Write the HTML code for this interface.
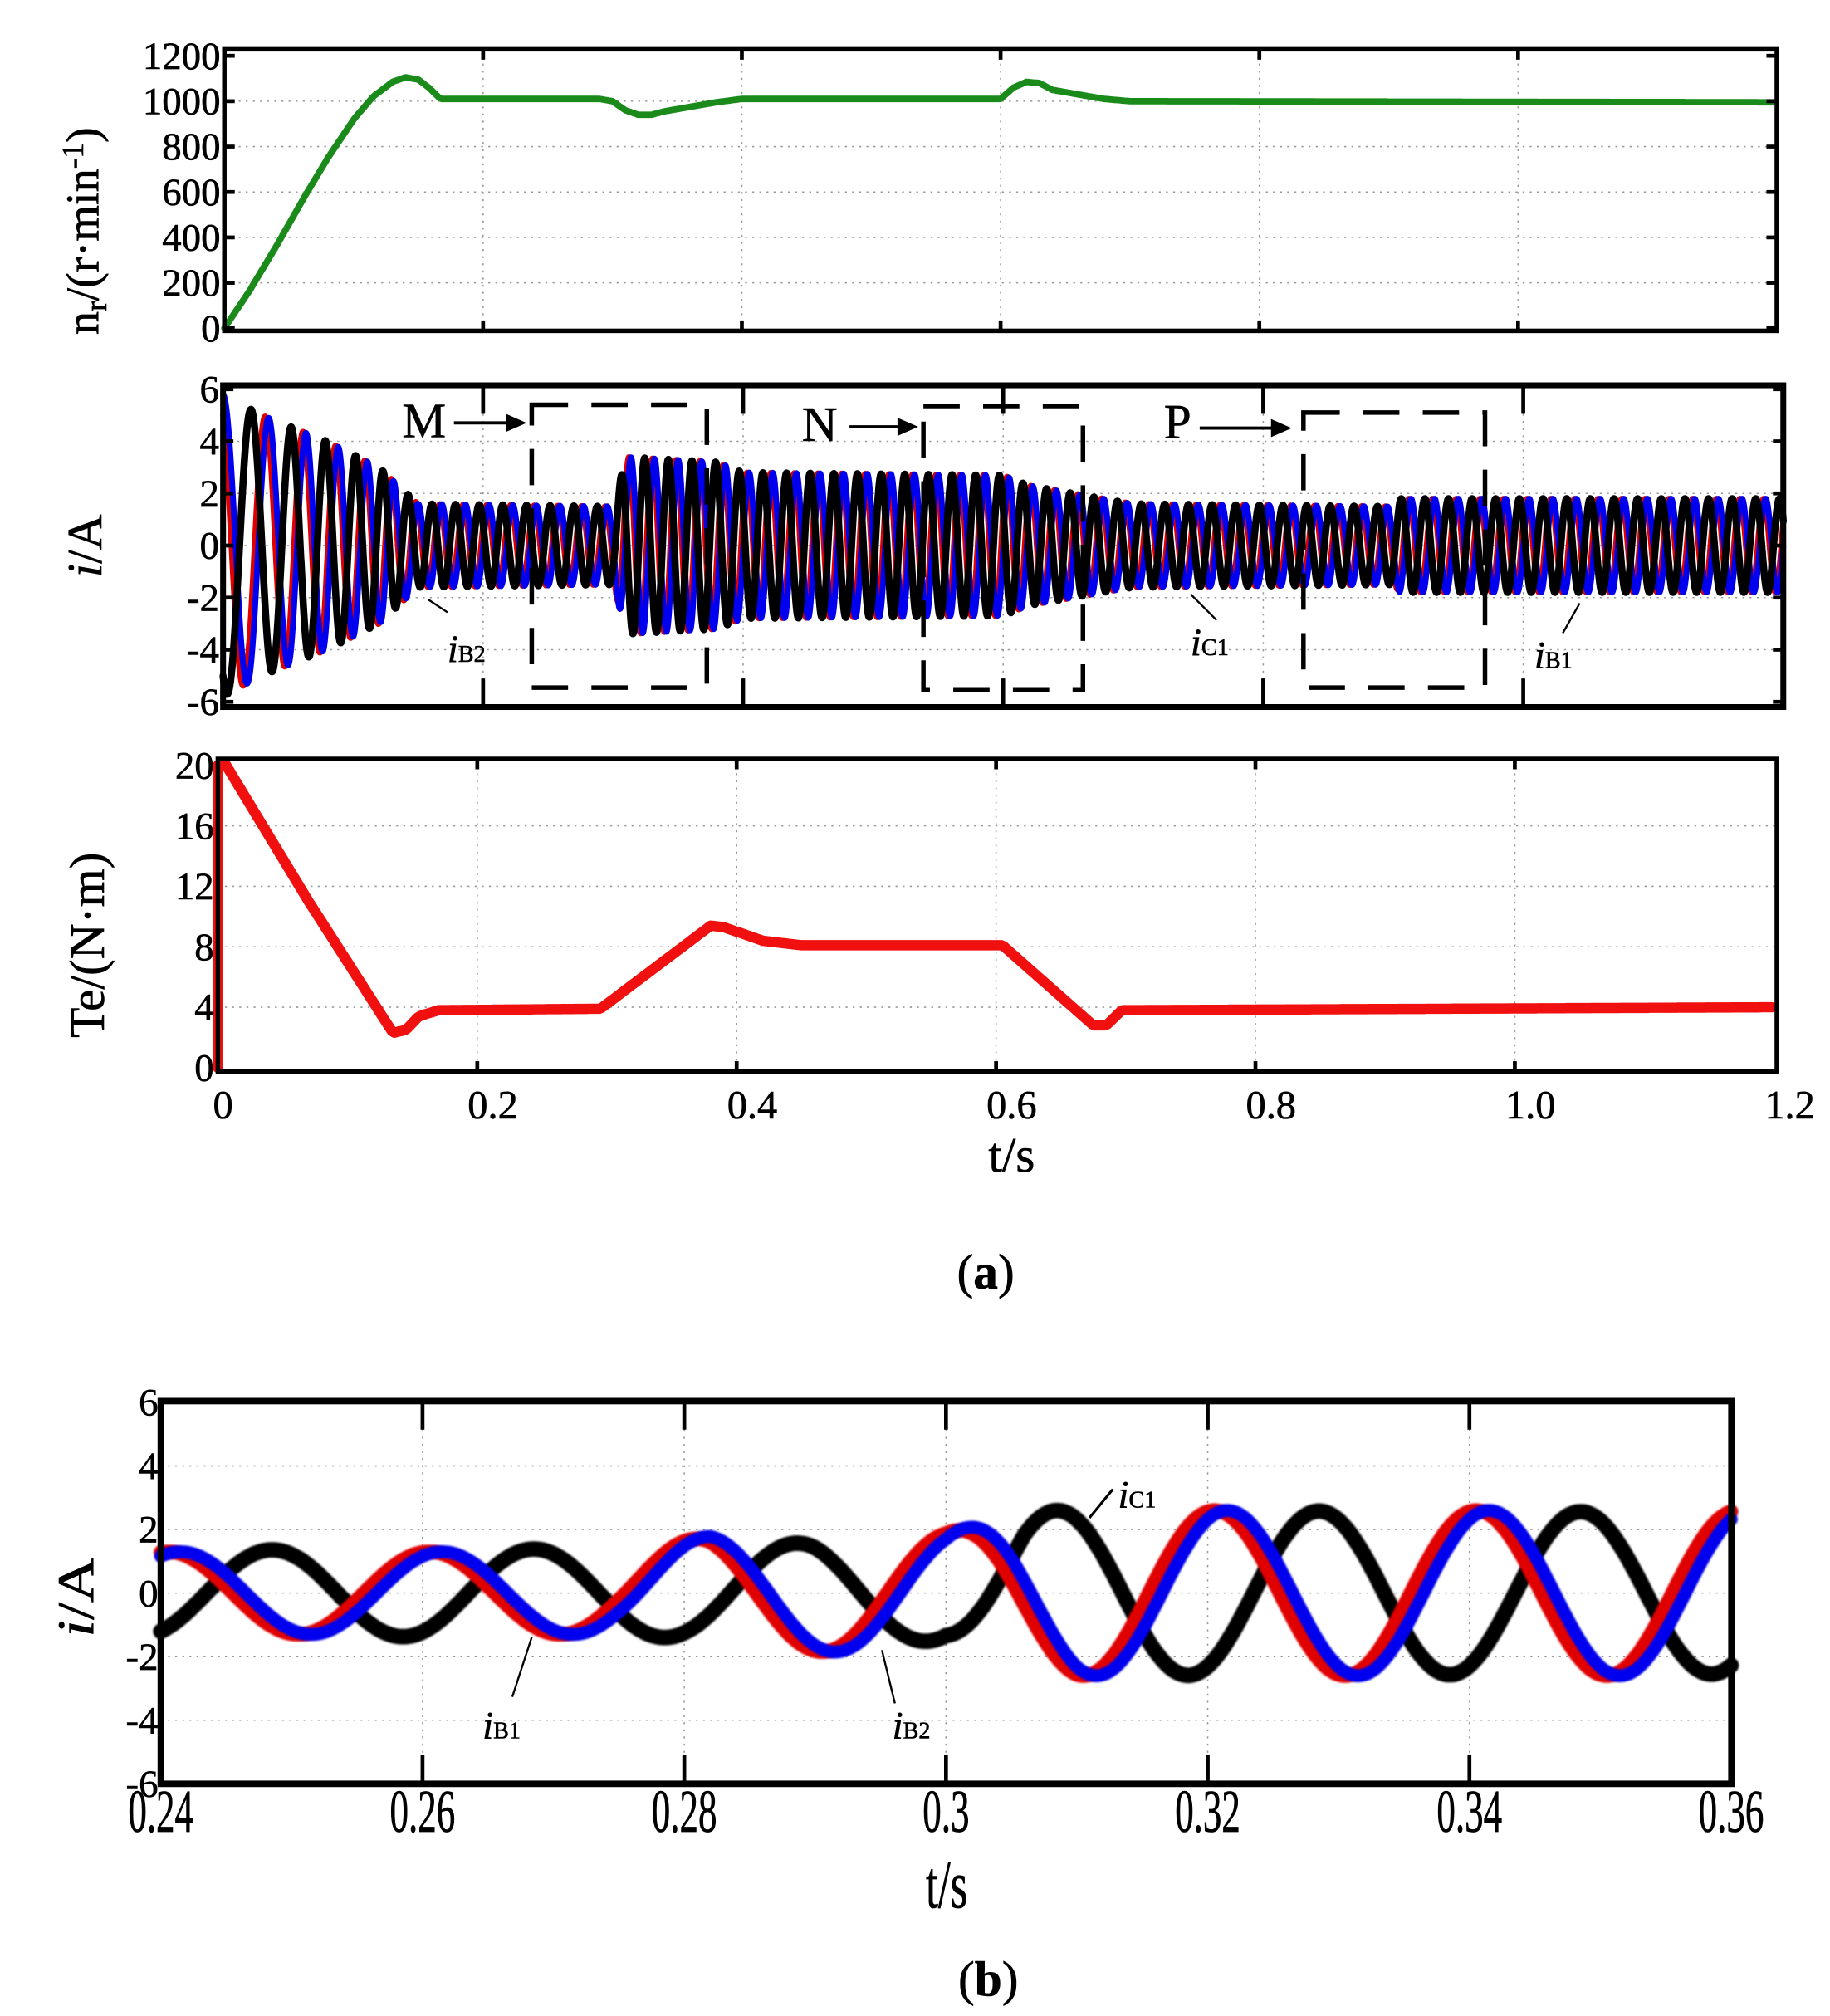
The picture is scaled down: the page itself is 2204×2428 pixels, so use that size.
<!DOCTYPE html>
<html><head><meta charset="utf-8"><style>
html,body{margin:0;padding:0;background:#fff}
svg{display:block}
text{font-family:"Liberation Serif",serif;fill:#000;stroke:#000;stroke-width:0.4}
</style></head><body>
<svg id="s" width="2204" height="2428" viewBox="0 0 1411 1554" preserveAspectRatio="none" xmlns="http://www.w3.org/2000/svg">
<defs><filter id="fz"><feGaussianBlur stdDeviation="0.6"/></filter></defs>
<g id="grid" stroke="#999" stroke-width="1" stroke-dasharray="1.5,4" fill="none"></g>
<g id="data" fill="none" stroke-linejoin="round" stroke-linecap="round"></g>
<g id="axes" fill="none" stroke="#000"></g>
<g id="txt"></g>
</svg>
<script>
const NS="http://www.w3.org/2000/svg";
function el(g,tag,attrs,text){const e=document.createElementNS(NS,tag);for(const k in attrs)e.setAttribute(k,attrs[k]);if(text!==undefined)e.textContent=text;document.getElementById(g).appendChild(e);return e;}
function line(g,x1,y1,x2,y2,a){return el(g,'line',Object.assign({x1,y1,x2,y2},a||{}));}
function path(pts,a){let d='M'+pts.map(p=>p[0].toFixed(1)+','+p[1].toFixed(1)).join('L');return el('data','path',Object.assign({d},a));}
function interp(pts,t){for(let i=1;i<pts.length;i++){if(t<=pts[i][0]){const a=pts[i-1],b=pts[i];return a[1]+(b[1]-a[1])*(t-a[0])/(b[0]-a[0]);}}return pts[pts.length-1][1];}
function txt(x,y,s,size,anchor,extra){return el('txt','text',Object.assign({x,y,'font-size':size,'text-anchor':anchor||'middle'},extra||{}),s);}

// ---------- Plot 1 ----------
{const L=173,R=1370,T=38,B=255;const X=t=>L+t*(R-L)/1.2,Y=n=>253-n*0.175;
for(let k=1;k<6;k++)line('grid',X(k*0.2),T,X(k*0.2),B);
for(let n=200;n<1200;n+=200)line('grid',L,Y(n),R,Y(n));
const sp=[[0,0],[0.02,170],[0.04,360],[0.06,560],[0.08,750],[0.1,920],[0.115,1020],[0.13,1085],[0.14,1105],[0.15,1095],[0.158,1060],[0.167,1010],[0.29,1010],[0.3,1000],[0.31,960],[0.32,940],[0.33,940],[0.34,955],[0.36,975],[0.38,995],[0.4,1010],[0.6,1010],[0.61,1060],[0.62,1085],[0.63,1080],[0.64,1050],[0.66,1030],[0.68,1010],[0.7,1000],[1.2,995]];
const pts=[];for(let t=0;t<=1.2;t+=0.002)pts.push([X(t),Y(interp(sp,t))]);
path(pts,{stroke:'#1a8a1a','stroke-width':5});
el('axes','rect',{x:L,y:T,width:R-L,height:B-T,'stroke-width':3.5});
for(let k=1;k<6;k++){line('axes',X(k*0.2),T,X(k*0.2),T+8,{'stroke-width':3});line('axes',X(k*0.2),B,X(k*0.2),B-8,{'stroke-width':3});}
for(let n=0;n<=1200;n+=200){txt(L-3,Y(n)+10,String(n),30,'end');line('axes',L,Y(n),L+8,Y(n),{'stroke-width':3});line('axes',R,Y(n),R-8,Y(n),{'stroke-width':3});}
el('txt','text',{x:0,y:0,'font-size':36,transform:'translate(76,258) rotate(-90)'}).innerHTML='n<tspan font-size="24" dy="6">r</tspan><tspan dy="-6">/(r·min</tspan><tspan font-size="24" dy="-12">-1</tspan><tspan dy="12">)</tspan>';
}

// ---------- Plot 2 ----------
{const L=172,R=1375,T=297,B=545;const X=t=>L+t*1002.5,Y=i=>420.5-i*20.08;
for(let k=1;k<6;k++)line('grid',X(k*0.2),T,X(k*0.2),B);
for(let i=-4;i<=4;i+=2)line('grid',L,Y(i),R,Y(i));
const amp=[[0,5.8],[0.03,5],[0.08,4],[0.12,3],[0.15,1.6],[0.3,1.5],[0.31,3.4],[0.38,3.2],[0.4,2.8],[0.6,2.7],[0.62,2.3],[0.7,1.6],[0.9,1.5],[0.905,1.8],[1.2,1.8]];
const f=t=>t<0.15?(25+200*t):55;
const cols=[['#e00000',2.1,4.5],['#0000ee',Math.PI/2,4.5],['#000',-2.1,5.5]];
const N=6000;let ph=0;const phs=[];for(let k=0;k<=N;k++){const t=1.2*k/N;phs.push(ph);ph+=2*Math.PI*f(t)*1.2/N;}
for(const [c,off,w] of cols){const pts=[];for(let k=0;k<=N;k++){const t=1.2*k/N;pts.push([X(t),Y(interp(amp,t)*Math.sin(phs[k]+off))]);}path(pts,{stroke:c,'stroke-width':w});}
el('axes','rect',{x:L,y:T,width:R-L,height:B-T,'stroke-width':4.5});
for(let k=1;k<6;k++){line('axes',X(k*0.2),T,X(k*0.2),T+22,{'stroke-width':3});line('axes',X(k*0.2),B,X(k*0.2),B-22,{'stroke-width':3});}
for(let i=-6;i<=6;i+=2){txt(L-3,Y(i)+10,String(i),30,'end');line('axes',L,Y(i),L+8,Y(i),{'stroke-width':3});line('axes',R,Y(i),R-8,Y(i),{'stroke-width':3});}
const dash={'stroke-width':3.5,'stroke-dasharray':'28,18'};
el('axes','rect',Object.assign({x:410,y:312,width:135,height:218},dash));
el('axes','rect',Object.assign({x:712,y:313,width:123,height:219},dash));
el('axes','rect',Object.assign({x:1005,y:318,width:140,height:212},dash));
txt(327,337,'M',38);txt(632,340,'N',38);txt(908,338,'P',38);
const arr=(x1,x2,y)=>{line('axes',x1,y,x2-12,y,{'stroke-width':2.5});el('data','polygon',{points:`${x2},${y} ${x2-16},${y-7} ${x2-16},${y+7}`,fill:'#000'});};
arr(350,406,326);arr(655,708,329);arr(925,996,330);
line('axes',345,472,330,462,{'stroke-width':1.5});line('axes',938,478,918,458,{'stroke-width':1.5});line('axes',1205,488,1218,465,{'stroke-width':1.5});
el('txt','text',{x:345,y:510,'font-size':30,'font-style':'italic'}).innerHTML='i<tspan font-style="normal" font-size="18">B2</tspan>';
el('txt','text',{x:918,y:505,'font-size':30,'font-style':'italic'}).innerHTML='i<tspan font-style="normal" font-size="18">C1</tspan>';
el('txt','text',{x:1183,y:515,'font-size':30,'font-style':'italic'}).innerHTML='i<tspan font-style="normal" font-size="18">B1</tspan>';
el('txt','text',{x:0,y:0,'font-size':38,transform:'translate(78,445) rotate(-90)'}).innerHTML='<tspan font-style="italic">i</tspan>/A';
}

// ---------- Plot 3 ----------
{const L=168,R=1370,T=585,B=826;const X=t=>L+t*1000,Y=v=>823-v*11.65;
for(let k=1;k<6;k++)line('grid',X(k*0.2),T,X(k*0.2),B);
for(let v=4;v<20;v+=4)line('grid',L,Y(v),R,Y(v));
const tq=[[0,20],[0.005,20.2],[0.07,11],[0.135,2.3],[0.145,2.5],[0.155,3.4],[0.17,3.8],[0.295,3.9],[0.38,9.4],[0.39,9.3],[0.42,8.4],[0.45,8.1],[0.605,8.1],[0.675,2.8],[0.685,2.8],[0.697,3.8],[1.2,4]];
const pts=[[X(0),Y(0)]];for(let t=0;t<=1.2;t+=0.002)pts.push([X(t),Y(interp(tq,t))]);
path(pts,{stroke:'#f01010','stroke-width':8});
el('axes','rect',{x:L,y:T,width:R-L,height:B-T,'stroke-width':3.5});
for(let k=1;k<6;k++){line('axes',X(k*0.2),T,X(k*0.2),T+8,{'stroke-width':3});line('axes',X(k*0.2),B,X(k*0.2),B-8,{'stroke-width':3});}
for(let v=0;v<=20;v+=4){txt(L-3,Y(v)+10,String(v),30,'end');}
['0','0.2','0.4','0.6','0.8','1.0','1.2'].forEach((s,k)=>txt(X(k*0.2)+(k==0?4:12),862,s,31));
txt(780,903,'t/s',38);
el('txt','text',{x:0,y:0,'font-size':38,transform:'translate(80,800) rotate(-90)'},'Te/(N·m)');
el('txt','text',{x:760,y:993,'font-size':38,'text-anchor':'middle'}).innerHTML='(<tspan font-weight="bold">a</tspan>)';
}

// ---------- Plot b ----------
{const L=124,R=1335,T=1080,B=1375;const X=t=>L+(t-0.24)*10090,Y=i=>1228-i*24.5;
for(let k=1;k<6;k++)line('grid',X(0.24+k*0.02),T,X(0.24+k*0.02),B);
for(let i=-4;i<=4;i+=2)line('grid',L,Y(i),R,Y(i));
const w=2*Math.PI*50;
const ab=[[0.24,1.3],[0.275,1.3],[0.282,1.8],[0.3,1.9],[0.305,2.4],[0.31,2.6],[0.36,2.6]];
const ak=[[0.24,1.35],[0.28,1.4],[0.29,1.6],[0.3,1.5],[0.306,2.6],[0.36,2.55]];
const mk=(sh,a)=>{const pts=[];for(let t=0.24;t<=0.3601;t+=0.0002)pts.push([X(t),Y(interp(a,t)*Math.cos(w*(t-sh)))]);return pts;};
path(mk(0.2685,ak),{stroke:'#000','stroke-width':12,filter:'url(#fz)'});
path(mk(0.2605,ab),{stroke:'#e00000','stroke-width':11,filter:'url(#fz)'});
path(mk(0.2615,ab),{stroke:'#0000ee','stroke-width':10,filter:'url(#fz)'});
el('axes','rect',{x:L,y:T,width:R-L,height:B-T,'stroke-width':5});
for(let k=1;k<6;k++){line('axes',X(0.24+k*0.02),T,X(0.24+k*0.02),T+22,{'stroke-width':3});line('axes',X(0.24+k*0.02),B,X(0.24+k*0.02),B-22,{'stroke-width':3});}
for(let i=-6;i<=6;i+=2){txt(L-2,Y(i)+10,String(i),30,'end',{fill:'#444'});}
['0.24','0.26','0.28','0.3','0.32','0.34','0.36'].forEach((s,k)=>txt(X(0.24+k*0.02),1412,s,36,'middle',{transform:`translate(${X(0.24+k*0.02)},1412) scale(0.8,1.3) translate(${-X(0.24+k*0.02)},-1412)`,fill:'#333'}));
el('txt','text',{x:730,y:1470,'font-size':40,'text-anchor':'middle',fill:'#333',transform:'translate(730,1470) scale(0.85,1.3) translate(-730,-1470)'},'t/s');
el('txt','text',{x:0,y:0,'font-size':40,fill:'#444',transform:'translate(72,1262) rotate(-90) scale(1.2,1)'}).innerHTML='<tspan font-style="italic">i</tspan>/A';
line('axes',840,1170,858,1148,{'stroke-width':2});
line('axes',395,1308,410,1262,{'stroke-width':1.5});line('axes',690,1313,680,1272,{'stroke-width':1.5});
el('txt','text',{x:862,y:1162,'font-size':30,'font-style':'italic'}).innerHTML='i<tspan font-style="normal" font-size="18">C1</tspan>';
el('txt','text',{x:372,y:1340,'font-size':30,'font-style':'italic'}).innerHTML='i<tspan font-style="normal" font-size="18">B1</tspan>';
el('txt','text',{x:688,y:1340,'font-size':30,'font-style':'italic'}).innerHTML='i<tspan font-style="normal" font-size="18">B2</tspan>';
el('txt','text',{x:762,y:1538,'font-size':38,'text-anchor':'middle'}).innerHTML='(<tspan font-weight="bold">b</tspan>)';
}
</script>
</body></html>
